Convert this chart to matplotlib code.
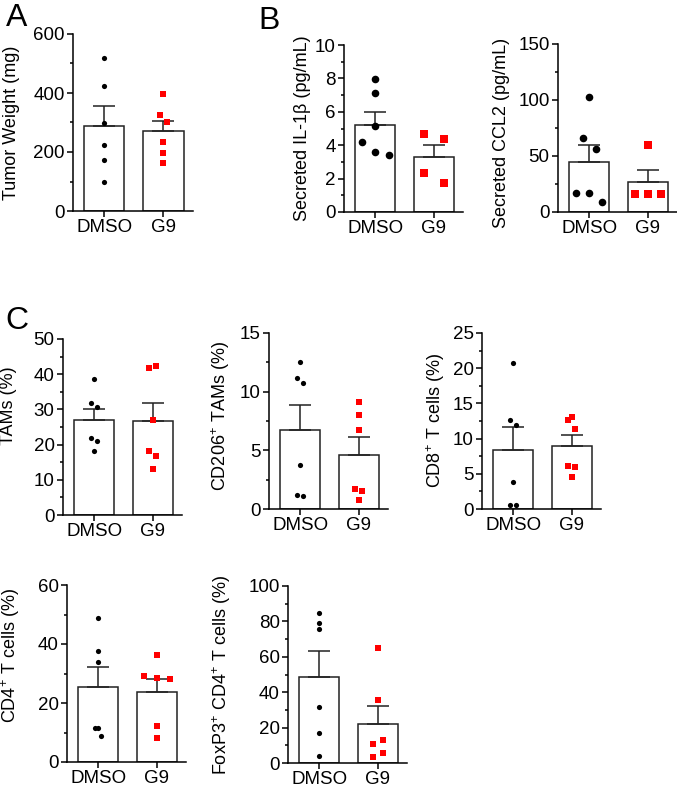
import numpy as np
import matplotlib
matplotlib.use('Agg')
import matplotlib.pyplot as plt
from matplotlib.ticker import MultipleLocator

plt.rcParams['font.family'] = ['Liberation Sans', 'DejaVu Sans']
plt.rcParams['mathtext.fontset'] = 'custom'
plt.rcParams['mathtext.rm'] = 'Liberation Sans'
plt.rcParams['mathtext.it'] = 'Liberation Sans:italic'

groups = ['DMSO', 'G9']

# tumor weight (mg)
tumor_dmso = [520, 425, 297, 224, 173, 98]
tumor_g9 = [398, 325, 300, 235, 198, 162]
# secreted IL-1b (pg/mL)
il1b_dmso = [7.94, 7.1, 5.14, 4.2, 3.6, 3.4]
il1b_g9 = [4.68, 4.38, 2.36, 1.76]
# secreted CCL2 (pg/mL)
ccl2_dmso = [102.5, 66, 56.5, 17.3, 17, 9.3]
ccl2_g9 = [59.8, 16.4, 15.8, 15.8]
# flow cytometry (%)
tams_dmso = [38.7, 31.8, 30.6, 22, 20.9, 18.1]
tams_g9 = [42.3, 41.9, 27, 18.2, 16.9, 13.1]
cd206_dmso = [12.5, 11.2, 10.7, 3.76, 1.19, 1.13]
cd206_g9 = [9.09, 8.0, 6.7, 1.67, 1.53, 0.79]
cd8_dmso = [20.8, 12.7, 12.0, 3.78, 0.57, 0.57]
cd8_g9 = [13.1, 12.6, 11.4, 6.1, 5.95, 4.54]
cd4_dmso = [48.7, 37.7, 33.9, 11.5, 11.5, 8.8]
cd4_g9 = [36.4, 29.2, 28.4, 28.1, 12.1, 8.0]
foxp3_dmso = [85, 79, 75.9, 31.8, 16.9, 3.8]
foxp3_g9 = [64.7, 35.7, 12.8, 10.9, 5.8, 3.6]

# horizontal spread of the dots (bar spacing = 1)
j = 0.057
panels = [
    # (rect px: left, top, right, bottom), ylabel, ymax, major, minor, data, jitter, dot size, label xy
    ((73, 34, 193, 211), 'Tumor Weight (mg)', 600, 200, 100,
     (tumor_dmso, tumor_g9), ([0] * 6, [0, -j, j, 0, 0, 0]), 14, (-0.44, 0.5)),
    ((344, 45, 463, 212), 'Secreted IL-1\u03b2 (pg/mL)', 10, 2, 1,
     (il1b_dmso, il1b_g9), ([0, 0, 0, -0.22, 0, 0.23], [-0.17, 0.17, -0.17, 0.17]), 30, (-0.28, 0.5)),
    ((558, 44, 677, 212), 'Secreted CCL2 (pg/mL)', 150, 50, 25,
     (ccl2_dmso, ccl2_g9), ([0, -0.11, 0.11, -0.22, 0, 0.22], [0, -0.22, 0, 0.22]), 30, (-0.40, 0.47)),
    ((63, 339, 182, 515), 'TAMs (%)', 50, 10, 5,
     (tams_dmso, tams_g9), ([0, -j, j, -j, j, 0], [j, -j, 0, -j, j, 0]), 14, (-0.39, 0.62)),
    ((269, 333, 388, 509), 'CD206$^{+}$ TAMs (%)', 15, 5, 2.5,
     (cd206_dmso, cd206_g9), ([0, -j, j, 0, -j, j], [0, 0, 0, -j, j, 0]), 14, (-0.31, 0.53)),
    ((482, 333, 601, 509), 'CD8$^{+}$ T cells (%)', 25, 5, 2.5,
     (cd8_dmso, cd8_g9), ([0, -j, j, 0, -j, j], [0, -j, j, -j, j, 0]), 14, (-0.29, 0.5)),
    ((67, 585, 186, 762), 'CD4$^{+}$ T cells (%)', 60, 20, 10,
     (cd4_dmso, cd4_g9), ([0, 0, 0, -j, 0, j], [0, -0.21, 0, 0.22, 0, 0]), 14, (-0.38, 0.6)),
    ((288, 586, 407, 763), 'FoxP3$^{+}$ CD4$^{+}$ T cells (%)', 100, 20, 10,
     (foxp3_dmso, foxp3_g9), ([0] * 6, [0, 0, 0.09, -0.085, 0.085, -0.085]), 14, (-0.46, 0.5)),
]

W, H = 677, 795
fig = plt.figure(figsize=(W / 100, H / 100), dpi=100)

for rect, ylabel, ymax, major, minor, data, jit, size, lab in panels:
    l, t, r, b = rect
    ax = fig.add_axes([l / W, 1 - b / H, (r - l) / W, (b - t) / H])
    x = np.arange(2)
    means = [np.mean(d) for d in data]
    sems = [np.std(d, ddof=1) / np.sqrt(len(d)) for d in data]
    ax.bar(x, means, width=0.68, color='white', edgecolor='#222222', linewidth=1.1, zorder=1)
    ax.errorbar(x, means, yerr=[[0, 0], sems], fmt='none', ecolor='#222222',
                elinewidth=1.1, capsize=8, capthick=1.1, zorder=2)
    ax.scatter(x[0] + np.array(jit[0]), data[0], s=size, color='black', marker='o',
               linewidths=0, zorder=3)
    ax.scatter(x[1] + np.array(jit[1]), data[1], s=size, color='red', marker='s',
               linewidths=0, zorder=3)
    ax.set_xlim(-0.53, 1.5)
    ax.set_ylim(0, ymax)
    ax.yaxis.set_major_locator(MultipleLocator(major))
    ax.yaxis.set_minor_locator(MultipleLocator(minor))
    ax.set_xticks(x)
    ax.set_xticklabels(groups)
    ax.spines['top'].set_visible(False)
    ax.spines['right'].set_visible(False)
    for s in ['left', 'bottom']:
        ax.spines[s].set_linewidth(1.1)
    ax.tick_params(axis='both', which='major', labelsize=13.5, width=1.1, length=4, pad=2)
    ax.tick_params(axis='y', which='minor', width=1.1, length=2.5)
    ax.set_ylabel(ylabel, fontsize=13)
    ax.yaxis.set_label_coords(*lab)

fig.text(6 / W, 1 - 3 / H, 'A', fontsize=23, va='top', ha='left')
fig.text(258 / W, 1 - 6 / H, 'B', fontsize=23, va='top', ha='left')
fig.text(5 / W, 1 - 306 / H, 'C', fontsize=23, va='top', ha='left')

fig.savefig('out.png', dpi=100)
